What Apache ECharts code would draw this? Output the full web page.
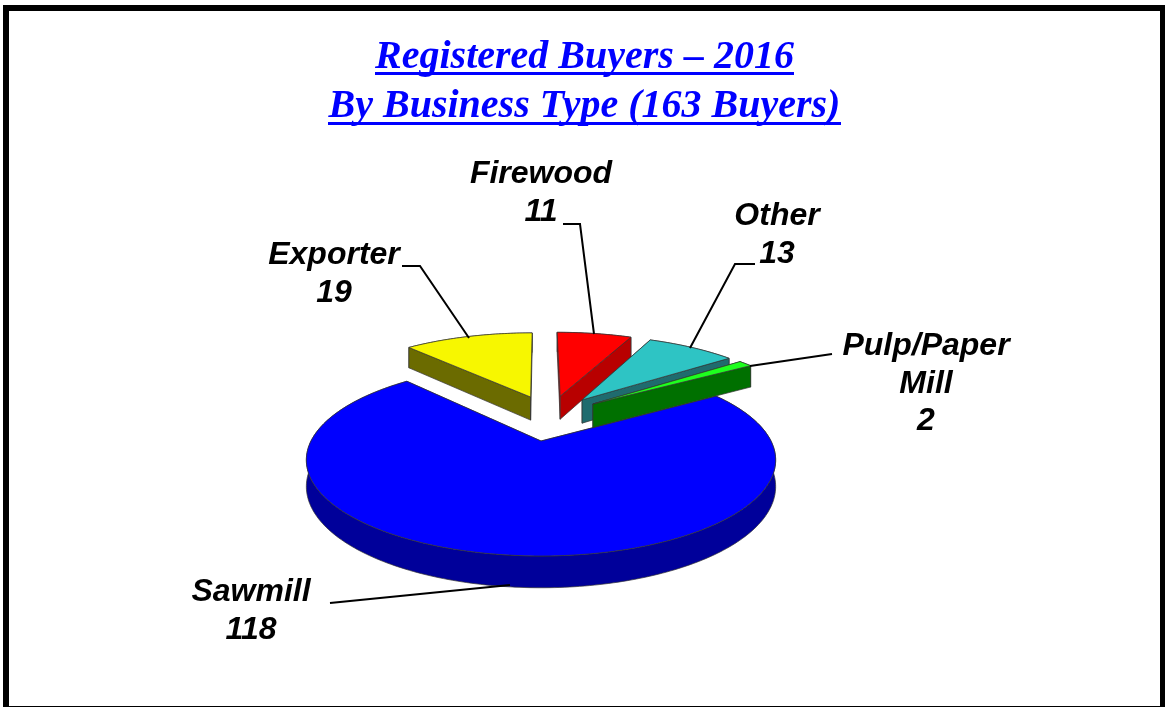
<!DOCTYPE html>
<html><head><meta charset="utf-8">
<style>html,body{margin:0;padding:0;background:#fff}#c{width:1165px;height:707px}</style>
<script src="https://cdn.jsdelivr.net/npm/echarts@6/dist/echarts.min.js"></script>
</head><body><div id="c"></div>
<script>
// Data (clockwise, starting at the Sawmill slice)
const categories = ['Sawmill', 'Exporter', 'Firewood', 'Other', 'Pulp/Paper\nMill'];
const values = [118, 19, 11, 13, 2];
const titleLines = ['Registered Buyers – 2016', 'By Business Type (163 Buyers)'];

// Appearance
const topColors = ['#0000FF', '#F7F700', '#FF0000', '#2EC4C4', '#1EFF1E'];
const wallColors = ['#00009A', '#6B6B00', '#B80000', '#1F6B6E', '#007000'];
const labelPos = [[251, 611], [334, 274], [541, 193], [777, 235], [926, 384]];
const leaders = [
  [[330, 603], [510, 585]],
  [[402, 266], [420, 266], [469, 338]],
  [[563, 224], [580, 224], [594, 334]],
  [[755, 264], [735, 264], [690, 348]],
  [[832, 354], [750, 366]]
];

// Perspective projection of the pie plane (unit radius) to the screen
const P = {ox: 541, oy: 441, k: 230, m: 92.2, p: 0.198, h: 25.5, explode: 0.25, sawmillExplode: 0.296};
const firstAngle = 57.4;
const total = values.reduce((a, b) => a + b, 0);
const rad = d => d * Math.PI / 180;
function proj(u, v, drop) {
  const d = 1 + P.p * v;
  return [P.ox + P.k * u / d, P.oy - P.m * v / d + (drop ? P.h / d : 0)];
}
// Slice origin: every slice moves out from the true pie centre; the plane origin sits on Sawmill's apex
const sawMid = firstAngle + values[0] / total * 180;
const cu = -P.sawmillExplode * Math.sin(rad(sawMid));
const cv = -P.sawmillExplode * Math.cos(rad(sawMid));

function sliceGeom(idx) {
  let a0 = firstAngle;
  for (let i = 0; i < idx; i++) a0 += values[i] / total * 360;
  const a1 = a0 + values[idx] / total * 360;
  const mid = (a0 + a1) / 2;
  const e = idx === 0 ? P.sawmillExplode : P.explode;
  const u0 = cu + e * Math.sin(rad(mid));
  const v0 = cv + e * Math.cos(rad(mid));
  const rim = [];
  const n = Math.max(4, Math.ceil(a1 - a0));
  for (let i = 0; i <= n; i++) {
    const t = rad(a0 + (a1 - a0) * i / n);
    rim.push([u0 + Math.sin(t), v0 + Math.cos(t)]);
  }
  return {u0, v0, rim};
}

function renderSlice(params, api) {
  const idx = params.dataIndex;
  const g = sliceGeom(idx);
  const top = g.rim.map(q => proj(q[0], q[1], false));
  const bottom = g.rim.map(q => proj(q[0], q[1], true));
  const apexT = proj(g.u0, g.v0, false), apexB = proj(g.u0, g.v0, true);
  const wallStyle = {fill: wallColors[idx], stroke: '#333', lineWidth: 0.7};
  const last = top.length - 1;
  const poly = (points, style) => ({type: 'polygon', shape: {points}, style});
  return {type: 'group', children: [
    poly(top.concat(bottom.slice().reverse()), wallStyle),
    poly([apexT, top[0], bottom[0], apexB], wallStyle),
    poly([apexT, top[last], bottom[last], apexB], wallStyle),
    poly([apexT].concat(top), {fill: topColors[idx], stroke: '#333', lineWidth: 0.7})
  ]};
}

const titleFont = {fontFamily: '"Liberation Serif"', fontWeight: 'bold', fontStyle: 'italic', fontSize: 40};
const graphics = [
  {type: 'rect', shape: {x: 6, y: 8, width: 1157, height: 701}, style: {fill: 'none', stroke: '#000', lineWidth: 6}, silent: true},
  {type: 'text', x: 584.5, y: 58, style: Object.assign({text: titleLines[0], align: 'center', verticalAlign: 'middle', fill: '#0000FF'}, titleFont)},
  {type: 'text', x: 584.5, y: 107, style: Object.assign({text: titleLines[1], align: 'center', verticalAlign: 'middle', fill: '#0000FF'}, titleFont)},
  {type: 'line', shape: {x1: 375, y1: 73.5, x2: 794, y2: 73.5}, style: {stroke: '#0000FF', lineWidth: 3}},
  {type: 'line', shape: {x1: 328, y1: 123.5, x2: 841, y2: 123.5}, style: {stroke: '#0000FF', lineWidth: 3}}
];
categories.forEach((c, i) => {
  graphics.push({type: 'polyline', z: 5, shape: {points: leaders[i]}, style: {stroke: '#000', lineWidth: 2, fill: 'none'}});
  graphics.push({type: 'text', z: 6, x: labelPos[i][0], y: labelPos[i][1], style: {
    text: c + '\n' + values[i], align: 'center', verticalAlign: 'middle', lineHeight: 37.5,
    fontFamily: '"Liberation Sans"', fontWeight: 'bold', fontStyle: 'italic', fontSize: 32, fill: '#000'}});
});

const chart = echarts.init(document.getElementById('c'), null, {renderer: 'canvas'});
chart.setOption({
  animation: false,
  backgroundColor: '#fff',
  series: [{
    type: 'custom', coordinateSystem: 'none', silent: true, clip: false,
    data: categories.map((c, i) => ({name: c, value: [values[i]]})),
    renderItem: renderSlice
  }],
  graphic: {elements: graphics}
});
</script></body></html>
